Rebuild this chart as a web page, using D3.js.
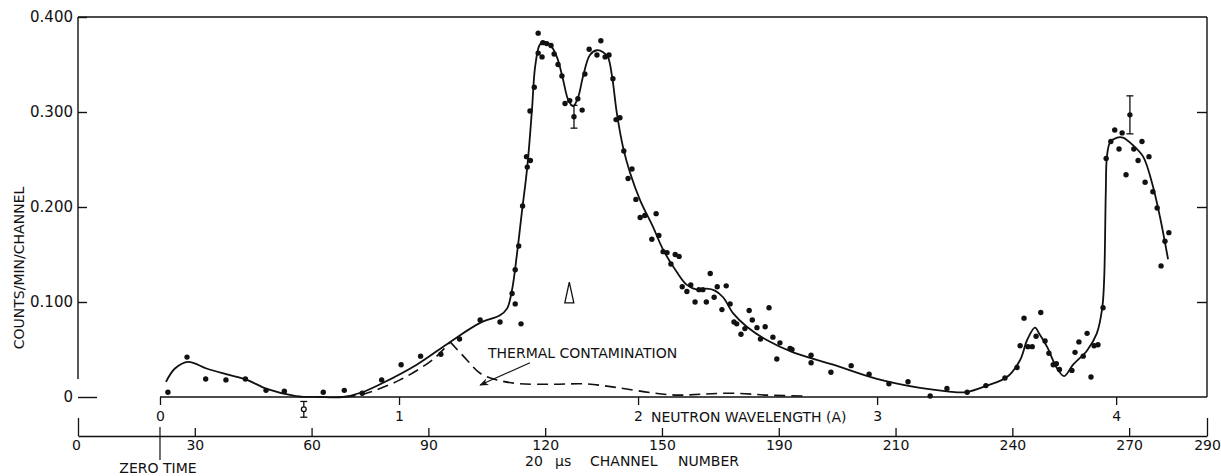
<!DOCTYPE html>
<html><head><meta charset="utf-8">
<script src="https://cdn.jsdelivr.net/npm/d3@7"></script>
<style>
html,body{margin:0;padding:0;background:#fff;}
svg{display:block;background:#fff;}
text{font-family:"DejaVu Sans",sans-serif;fill:#111;}
</style></head><body>
<svg id="chart" width="1221" height="476"></svg>
<script>
// ---------- DATA ----------
const channels = [23.1,28.0,32.8,38.0,43.0,48.3,53.0,63.0,68.4,73.0,78.0,83.0,88.0,93.2,98.0,103.3,108.4,111.5,112.3,113.8,112.3,113.2,114.2,115.4,115.2,116.2,116.1,117.2,118.2,119.2,118.2,119.4,120.4,121.5,122.3,123.3,124.3,125.1,126.3,127.4,128.4,129.5,130.2,131.3,133.3,134.3,135.4,136.4,137.4,138.2,139.2,140.2,141.3,142.3,143.3,144.4,145.6,147.4,148.5,149.2,150.3,151.3,152.3,153.4,154.4,155.2,156.4,157.4,158.5,159.5,160.5,161.4,162.4,163.4,164.2,165.4,166.5,167.5,168.5,169.2,170.3,171.3,172.4,173.2,174.4,175.3,176.5,177.5,178.5,179.5,180.3,182.9,183.4,188.3,188.3,193.4,198.6,203.2,208.3,213.2,218.9,223.2,228.4,233.2,238.1,241.2,242.0,243.0,244.0,245.1,246.1,247.3,248.4,249.4,250.5,251.3,252.1,255.3,256.1,257.1,258.2,259.2,260.2,261.0,262.0,263.3,264.1,265.3,266.3,267.4,268.2,269.2,270.2,271.2,272.3,273.3,274.1,275.1,276.1,277.2,278.2,279.2,280.2];
const counts = [0.005,0.042,0.019,0.018,0.019,0.007,0.006,0.005,0.007,0.004,0.018,0.034,0.043,0.045,0.061,0.081,0.079,0.109,0.098,0.077,0.134,0.159,0.201,0.242,0.253,0.249,0.301,0.326,0.362,0.358,0.383,0.373,0.372,0.370,0.361,0.350,0.338,0.309,0.312,0.295,0.314,0.302,0.340,0.366,0.360,0.375,0.358,0.360,0.335,0.292,0.294,0.259,0.230,0.240,0.208,0.189,0.191,0.166,0.193,0.170,0.153,0.152,0.140,0.150,0.148,0.116,0.111,0.118,0.100,0.113,0.113,0.100,0.130,0.105,0.116,0.092,0.117,0.098,0.079,0.077,0.066,0.072,0.091,0.081,0.073,0.061,0.074,0.094,0.063,0.040,0.057,0.051,0.050,0.044,0.036,0.026,0.033,0.024,0.014,0.016,0.001,0.009,0.005,0.012,0.020,0.031,0.054,0.083,0.053,0.053,0.064,0.089,0.059,0.046,0.034,0.035,0.029,0.028,0.047,0.058,0.043,0.067,0.021,0.054,0.055,0.094,0.251,0.269,0.281,0.261,0.278,0.234,0.297,0.261,0.249,0.269,0.226,0.253,0.216,0.199,0.138,0.164,0.173];

// smooth fitted curve (solid)
const curveCh  = [22.6,24.9,28.3,33,38,43.4,48.5,56,62,68,73,78.4,87,95.6,103.3,108.4,110.2,111.5,112.8,114,115.4,116.6,117.4,118.5,119.4,121.2,123,124.6,125.9,127.2,128.5,129.7,131.5,133.3,134.9,136.1,137.2,138.4,140,141.8,144.4,147.7,150.3,153.9,156.4,159,161.5,163.6,165.7,168.3,171.8,176.9,183.7,194,205.2,216.3,223.2,228,233.5,238.6,242,243.8,245.8,247,248.9,251.5,253.3,255.6,259.2,261.7,263.1,263.6,264.0,264.3,265.1,266.9,268.4,271,273.6,275.9,277.9,280];
const curveVal = [0.016,0.030,0.037,0.030,0.024,0.018,0.0085,0.001,0.0,0.0,0.005,0.015,0.034,0.058,0.078,0.086,0.093,0.113,0.152,0.194,0.242,0.302,0.347,0.370,0.374,0.371,0.358,0.334,0.313,0.306,0.316,0.337,0.360,0.365,0.363,0.358,0.337,0.299,0.263,0.236,0.207,0.179,0.155,0.131,0.118,0.113,0.114,0.112,0.105,0.088,0.074,0.060,0.047,0.034,0.019,0.0095,0.006,0.005,0.012,0.021,0.039,0.060,0.073,0.066,0.053,0.030,0.022,0.034,0.049,0.067,0.094,0.126,0.215,0.253,0.268,0.273,0.273,0.265,0.253,0.225,0.190,0.145];

// thermal contamination (dashed); rises to a cusp then falls
const thermalRiseCh  = [68.5,73.2,82.7,91.3,95.6];
const thermalRiseVal = [0.0,0.003,0.018,0.040,0.058];
const thermalFallCh  = [95.6,99.9,103.3,107.6,113.5,122,130.7,139.2,147.7,154,160.5,168.3,177,187.5];
const thermalFallVal = [0.058,0.039,0.025,0.018,0.014,0.0135,0.0137,0.0095,0.0042,0.002,0.003,0.004,0.002,0.001];

// error bars
const errCh   = [58.0,127.4,270.2];
const errVal  = [-0.013,0.295,0.297];
const errHalf = [0.0083,0.012,0.020];
const errOpen = [true,false,false];

// triangle marker
const triangleCh = 126.2, triangleTop = 0.121, triangleBase = 0.099;

// arrow (THERMAL CONTAMINATION)
const arrowFrom = [116.1,0.036], arrowTo = [103.3,0.0126];

// ticks
const yTicks = [0,0.1,0.2,0.3,0.4];
const yTickLabels = ["0","0.100","0.200","0.300","0.400"];
const chTicks = [0,30,60,90,120,150,180,210,240,270,290];
const chTickLabels = ["0","30","60","90","120","150","190","210","240","270","290"];
const wlTicks = [0,1,2,3,4];
const wlTickLabels = ["0","1","2","3","4"];
const zeroTimeChannel = 21.06, channelsPerAngstrom = 61.4;

// ---------- CHART ----------
const svg = d3.select("#chart");
const x = d3.scaleLinear().domain([0,290]).range([78,1207]);
const y = d3.scaleLinear().domain([0,0.4]).range([397,17]);
const xw = d3.scaleLinear().domain([0,4]).range([x(zeroTimeChannel), x(zeroTimeChannel+4*channelsPerAngstrom)]);
const chAxisY = 436;
const ink = "#111";

// frame
const frame = svg.append("g").attr("stroke",ink).attr("stroke-width",1.4).attr("fill","none");
frame.append("line").attr("x1",x(0)).attr("x2",x(290)).attr("y1",y(0.4)).attr("y2",y(0.4));
frame.append("line").attr("x1",x(0)).attr("x2",x(0)).attr("y1",y(0.4)).attr("y2",y(0.019));
frame.append("line").attr("x1",x(290)).attr("x2",x(290)).attr("y1",y(0.4)).attr("y2",y(0));
frame.append("line").attr("x1",xw(0)).attr("x2",x(290)).attr("y1",y(0)).attr("y2",y(0));

// left y axis
const gyl = svg.append("g").attr("transform",`translate(${x(0)},0)`)
  .call(d3.axisLeft(y).tickValues(yTicks).tickFormat((d,i)=>yTickLabels[i]).tickSizeInner(-9).tickSizeOuter(0).tickPadding(5));
gyl.select(".domain").remove();
gyl.selectAll(".tick line").attr("stroke",ink).attr("stroke-width",1.4).attr("x2",d=>d===0?19:9);
gyl.selectAll(".tick text").attr("font-size",15).attr("font-family","DejaVu Sans").attr("fill",ink);

// right y axis
const gyr = svg.append("g").attr("transform",`translate(${x(290)},0)`)
  .call(d3.axisRight(y).tickValues([0.1,0.2,0.3]).tickFormat("").tickSizeInner(-10).tickSizeOuter(0));
gyr.select(".domain").remove();
gyr.selectAll(".tick line").attr("stroke",ink).attr("stroke-width",1.4);

// wavelength axis
const gw = svg.append("g").attr("transform",`translate(0,${y(0)})`)
  .call(d3.axisBottom(xw).tickValues(wlTicks).tickFormat((d,i)=>wlTickLabels[i]).tickSizeInner(8).tickSizeOuter(0).tickPadding(6));
gw.select(".domain").remove();
gw.selectAll(".tick line").attr("stroke",ink).attr("stroke-width",1.3);
gw.selectAll(".tick text").attr("font-size",14).attr("font-family","DejaVu Sans").attr("fill",ink);
svg.append("text").attr("x",xw(2)+13).attr("y",422).attr("font-size",14).text("NEUTRON WAVELENGTH (A)");

// channel axis
const gc = svg.append("g").attr("transform",`translate(0,${chAxisY})`)
  .call(d3.axisBottom(x).tickValues(chTicks).tickFormat((d,i)=>chTickLabels[i]).tickSizeInner(-8).tickSizeOuter(0).tickPadding(4));
gc.select(".domain").attr("stroke",ink).attr("stroke-width",1.4);
gc.selectAll(".tick line").attr("stroke",ink).attr("stroke-width",1.3).attr("y2",d=>(d===0||d===290)?-18:-8);
gc.selectAll(".tick text").attr("font-size",14).attr("font-family","DejaVu Sans").attr("fill",ink)
  .attr("dx",d=>d===0?-2:0);

// zero time
svg.append("line").attr("x1",x(zeroTimeChannel)).attr("x2",x(zeroTimeChannel))
  .attr("y1",chAxisY-9).attr("y2",chAxisY+24).attr("stroke",ink).attr("stroke-width",1.2);
svg.append("text").attr("x",x(zeroTimeChannel)-2).attr("y",473).attr("text-anchor","middle").attr("font-size",14).text("ZERO TIME");

// x title
svg.append("text").attr("x",525).attr("y",466).attr("font-size",14).text("20");
svg.append("text").attr("x",555).attr("y",466).attr("font-size",14).text("μs");
svg.append("text").attr("x",590).attr("y",466).attr("font-size",14).text("CHANNEL");
svg.append("text").attr("x",678).attr("y",466).attr("font-size",14).text("NUMBER");

// y title
svg.append("text").attr("transform","translate(24,268) rotate(-90)").attr("text-anchor","middle")
  .attr("font-size",14).text("COUNTS/MIN/CHANNEL");

// fitted curve
const line = d3.line().x(d=>x(d[0])).y(d=>y(d[1])).curve(d3.curveCatmullRom.alpha(0.5));
svg.append("path").attr("d",line(d3.zip(curveCh,curveVal)))
  .attr("fill","none").attr("stroke",ink).attr("stroke-width",1.8);

// thermal contamination dashed
[d3.zip(thermalRiseCh,thermalRiseVal), d3.zip(thermalFallCh,thermalFallVal)].forEach(seg=>{
  svg.append("path").attr("d",line(seg)).attr("fill","none").attr("stroke",ink)
    .attr("stroke-width",1.6).attr("stroke-dasharray","11,6");
});

// data points
svg.append("g").selectAll("circle").data(d3.zip(channels,counts)).join("circle")
  .attr("cx",d=>x(d[0])).attr("cy",d=>y(d[1])).attr("r",2.7).attr("fill",ink);

// error bars
const eb = svg.append("g").attr("stroke",ink).attr("stroke-width",1.3).attr("fill","none");
errCh.forEach((c,i)=>{
  const cx = x(c), t = y(errVal[i]+errHalf[i]), b = y(errVal[i]-errHalf[i]);
  eb.append("line").attr("x1",cx).attr("x2",cx).attr("y1",t).attr("y2",b);
  eb.append("line").attr("x1",cx-3.5).attr("x2",cx+3.5).attr("y1",t).attr("y2",t);
  eb.append("line").attr("x1",cx-3.5).attr("x2",cx+3.5).attr("y1",b).attr("y2",b);
  if(errOpen[i]) eb.append("circle").attr("cx",cx).attr("cy",y(errVal[i])).attr("r",2.4).attr("fill","#fff");
});

// triangle
const tx = x(triangleCh);
svg.append("path").attr("d",`M${tx},${y(triangleTop)} L${tx-4.5},${y(triangleBase)} L${tx+4.5},${y(triangleBase)} Z`)
  .attr("fill","#fff").attr("stroke",ink).attr("stroke-width",1.3);

// annotation
svg.append("defs").append("marker").attr("id","ah").attr("viewBox","0 0 10 10").attr("refX",9).attr("refY",5)
  .attr("markerWidth",9).attr("markerHeight",9).attr("orient","auto").attr("markerUnits","userSpaceOnUse")
  .append("path").attr("d","M0,1 L10,5 L0,9 L3,5 Z").attr("fill",ink);
svg.append("line").attr("x1",x(arrowFrom[0])).attr("y1",y(arrowFrom[1])).attr("x2",x(arrowTo[0])).attr("y2",y(arrowTo[1]))
  .attr("stroke",ink).attr("stroke-width",1.1).attr("marker-end","url(#ah)");
svg.append("text").attr("x",488).attr("y",358).attr("font-size",14).text("THERMAL CONTAMINATION");
</script>
</body></html>
